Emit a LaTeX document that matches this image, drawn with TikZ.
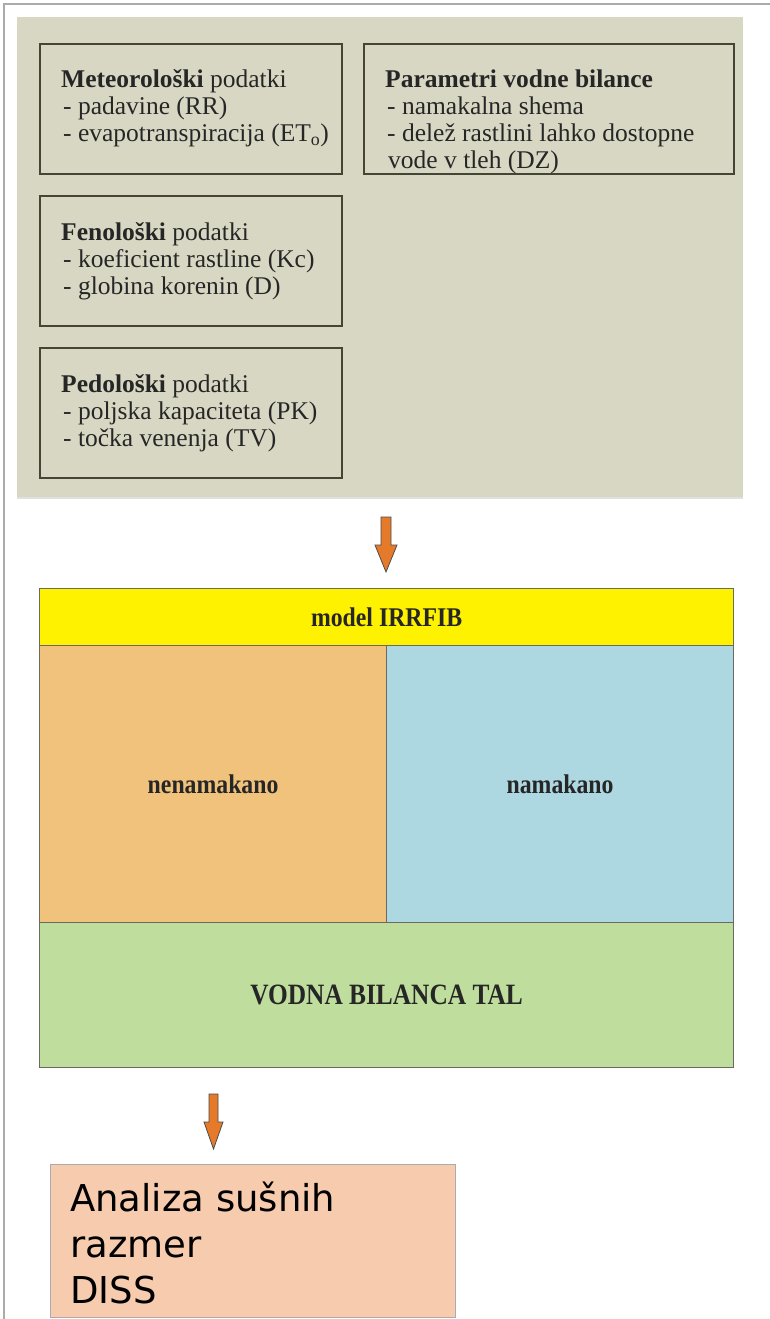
\documentclass[tikz,border=0pt]{standalone}
\usepackage{fontspec}
\setmainfont{Liberation Serif}
\newfontfamily\dejavu{DejaVu Sans}
\definecolor{panel}{HTML}{D8D7C3}
\definecolor{boxline}{HTML}{454536}
\definecolor{framegray}{HTML}{ABABAB}
\definecolor{myyellow}{HTML}{FFF200}
\definecolor{myorange}{HTML}{F0C27C}
\definecolor{myblue}{HTML}{ADD8E1}
\definecolor{mygreen}{HTML}{BFDD9D}
\definecolor{mypeach}{HTML}{F7CBAD}
\definecolor{arroworange}{HTML}{E57A2A}
\newcommand{\boxlines}[1]{\fontsize{25.5}{27}\selectfont\begin{tabular}[t]{@{}l@{}}#1\end{tabular}}
\begin{document}
\begin{tikzpicture}[x=1pt,y=-1pt,
  inbox/.style={draw=boxline,line width=2pt,fill=none,anchor=north west,inner sep=0pt,minimum height=130pt},
  intext/.style={anchor=base west,inner sep=0pt,text=black!85},
  modelbox/.style={draw=boxline!80,line width=1.2pt,anchor=north west,inner sep=0pt},
  boldlab/.style={font=\fontsize{27}{30}\selectfont\bfseries,text=black!85},
  blockarrow/.style={fill=arroworange,draw=black!70,line width=0.8pt,line join=miter}
]
\useasboundingbox (0,0) rectangle (770,1319);
\fill[white] (0,0) rectangle (770,1319);
% outer frame
\draw[framegray,line width=2pt] (770,4) -- (4,4) -- (4,1319);
% beige panel
\fill[black!12] (17,17) rectangle (743,499);
\fill[panel] (17,17) rectangle (743,497);

% input boxes
\node[inbox,minimum width=302pt] (meteo) at (39,43) {};
\node[inbox,minimum width=370pt] (param) at (363,43) {};
\node[inbox,minimum width=302pt] (feno) at (39,195) {};
\node[inbox,minimum width=302pt] (pedo) at (39,347) {};

\node[intext] (meteotxt) at ([xshift=22pt,yshift=-45pt]meteo.north west)
  {\boxlines{\textbf{Meteorološki} podatki\\\hspace{2pt}- padavine (RR)\\\hspace{2pt}- evapotranspiracija (ET\textsubscript{o})}};
\node[intext] (paramtxt) at ([xshift=22pt,yshift=-45pt]param.north west)
  {\boxlines{\textbf{Parametri vodne bilance}\\\hspace{2pt}- namakalna shema\\\hspace{2pt}- delež rastlini lahko dostopne\\\hspace{3pt}vode v tleh (DZ)}};
\node[intext] (fenotxt) at ([xshift=22pt,yshift=-45pt]feno.north west)
  {\boxlines{\textbf{Fenološki} podatki\\\hspace{2pt}- koeficient rastline (Kc)\\\hspace{2pt}- globina korenin (D)}};
\node[intext] (pedotxt) at ([xshift=22pt,yshift=-45pt]pedo.north west)
  {\boxlines{\textbf{Pedološki} podatki\\\hspace{2pt}- poljska kapaciteta (PK)\\\hspace{2pt}- točka venenja (TV)}};

% arrow 1
\draw[blockarrow] (381,517) -- (391,517) -- (391,545) -- (397,545) -- (386,572) -- (375,545) -- (381,545) -- cycle;

% model block
\node[modelbox,fill=myyellow,minimum width=694pt,minimum height=57pt] (model) at (39,588) {};
\node[boldlab] (modeltxt) at (model.center) {\scalebox{0.88}[1]{model IRRFIB}};
\node[modelbox,fill=myorange,minimum width=347pt,minimum height=277pt] (nena) at (39,645) {};
\node[boldlab] at (nena.center) (nenatxt) {\scalebox{0.88}[1]{nenamakano}};
\node[modelbox,fill=myblue,minimum width=347pt,minimum height=277pt] (nama) at (386,645) {};
\node[boldlab] at (nama.center) (namatxt) {\scalebox{0.88}[1]{namakano}};
\node[modelbox,fill=mygreen,minimum width=694pt,minimum height=145pt] (vodna) at (39,922) {};
\node[boldlab,font=\fontsize{29.5}{32}\selectfont\bfseries] at (vodna.center) (vodnatxt) {\scalebox{0.86}[1]{VODNA BILANCA TAL}};

% arrow 2
\draw[blockarrow] (209,1094) -- (218,1094) -- (218,1122) -- (223,1122) -- (213.5,1149) -- (204,1122) -- (209,1122) -- cycle;

% output box
\node[draw=framegray,line width=1pt,fill=mypeach,minimum width=405pt,minimum height=153pt,anchor=north west,inner sep=0pt] (diss) at (50,1164) {};
\node[anchor=base west,inner sep=0pt] (disstxt) at ([xshift=20pt,yshift=-47pt]diss.north west)
  {\dejavu\fontsize{37}{46}\selectfont\begin{tabular}[t]{@{}l@{}}Analiza sušnih\\razmer\\DISS\end{tabular}};
\end{tikzpicture}
\end{document}
